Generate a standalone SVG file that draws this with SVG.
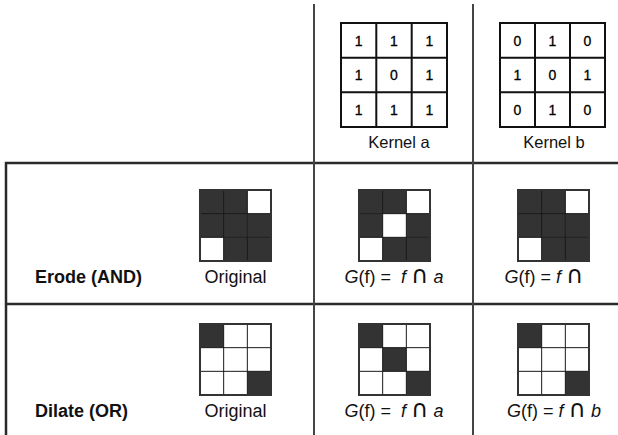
<svg xmlns="http://www.w3.org/2000/svg" xmlns:xlink="http://www.w3.org/1999/xlink" width="618" height="435" viewBox="0 0 618 435">
<style>
.rule{stroke:#2a2a2a;stroke-width:2.5;fill:none}
.rule2{stroke:#444;stroke-width:2;fill:none}
.kgrid{stroke:#111;stroke-width:2;fill:#fff}
.kl{stroke:#111;stroke-width:2}
.num{font-family:"Liberation Sans",Arial,sans-serif;font-size:14px;fill:#000;text-anchor:middle;stroke:#000;stroke-width:0.3}
.lbl{font-family:"Liberation Sans",Arial,sans-serif;font-size:16.5px;fill:#111;text-anchor:middle}
.row{font-family:"Liberation Sans",Arial,sans-serif;font-size:18px;font-weight:bold;fill:#111}
.frm{font-family:"Liberation Sans",Arial,sans-serif;font-size:18px;fill:#111;text-anchor:middle}
.it{font-style:italic}
.cap{font-family:"DejaVu Sans",sans-serif;font-size:24px}
.d{fill:#333}
.pg{stroke:#1a1a1a;stroke-width:1;fill:none}
.pb{stroke:#333;stroke-width:2;fill:none}
</style>
<defs>
<g id="pgrid">
<path class="pg" d="M23.67 0V71M47.33 0V71M0 23.67H71M0 47.33H71"/>
<rect class="pb" x="0" y="0" width="71" height="71"/>
</g>
</defs>
<rect width="618" height="435" fill="#fff"/>
<g id="connectors">
<path class="rule" d="M6 435V163H618"/>
<path class="rule" d="M6 304H618"/>
<path class="rule2" d="M314 4V435"/>
<path class="rule2" d="M473 4V435"/>
</g>
<g id="kernel-a">
<rect class="kgrid" x="341" y="23" width="106" height="104"/>
<path class="kl" d="M376.3 23V127M411.7 23V127M341 57.7H447M341 92.3H447"/>
<text class="num" x="358.6" y="45.5">1</text><text class="num" x="394" y="45.5">1</text><text class="num" x="429.3" y="45.5">1</text>
<text class="num" x="358.6" y="80.2">1</text><text class="num" x="394" y="80.2">0</text><text class="num" x="429.3" y="80.2">1</text>
<text class="num" x="358.6" y="114.8">1</text><text class="num" x="394" y="114.8">1</text><text class="num" x="429.3" y="114.8">1</text>
<text class="lbl" x="399" y="148">Kernel a</text>
</g>
<g id="kernel-b">
<rect class="kgrid" x="500" y="23" width="105" height="104"/>
<path class="kl" d="M535 23V127M570 23V127M500 57.7H605M500 92.3H605"/>
<text class="num" x="517.5" y="45.5">0</text><text class="num" x="552.5" y="45.5">1</text><text class="num" x="587.5" y="45.5">0</text>
<text class="num" x="517.5" y="80.2">1</text><text class="num" x="552.5" y="80.2">0</text><text class="num" x="587.5" y="80.2">1</text>
<text class="num" x="517.5" y="114.8">0</text><text class="num" x="552.5" y="114.8">1</text><text class="num" x="587.5" y="114.8">0</text>
<text class="lbl" x="554" y="148">Kernel b</text>
</g>
<g id="erode-label">
<text class="row" x="35" y="283">Erode (AND)</text>
</g>
<g id="erode-original" transform="translate(200,190)">
<rect class="d" x="0" y="0" width="47.33" height="47.33"/>
<rect class="d" x="47.33" y="23.67" width="23.67" height="23.67"/>
<rect class="d" x="23.67" y="47.33" width="47.33" height="23.67"/>
<use xlink:href="#pgrid"/>
<text class="frm" x="35.5" y="93">Original</text>
</g>
<g id="erode-a" transform="translate(359,190)">
<rect class="d" x="0" y="0" width="47.33" height="23.67"/>
<rect class="d" x="0" y="23.67" width="23.67" height="23.67"/>
<rect class="d" x="47.33" y="23.67" width="23.67" height="23.67"/>
<rect class="d" x="23.67" y="47.33" width="47.33" height="23.67"/>
<use xlink:href="#pgrid"/>
<text class="frm" x="35" y="93" xml:space="preserve"><tspan class="it">G</tspan>(f) =  <tspan class="it">f</tspan> <tspan class="cap">∩</tspan> <tspan class="it">a</tspan></text>
</g>
<g id="erode-b" transform="translate(518,190)">
<rect class="d" x="0" y="0" width="47.33" height="47.33"/>
<rect class="d" x="47.33" y="23.67" width="23.67" height="23.67"/>
<rect class="d" x="23.67" y="47.33" width="47.33" height="23.67"/>
<use xlink:href="#pgrid"/>
<text class="frm" x="26" y="93"><tspan class="it">G</tspan>(f) = <tspan class="it">f</tspan> <tspan class="cap">∩</tspan></text>
</g>
<g id="dilate-label">
<text class="row" x="35" y="417">Dilate (OR)</text>
</g>
<g id="dilate-original" transform="translate(200,324)">
<rect class="d" x="0" y="0" width="23.67" height="23.67"/>
<rect class="d" x="47.33" y="47.33" width="23.67" height="23.67"/>
<use xlink:href="#pgrid"/>
<text class="frm" x="35.5" y="93">Original</text>
</g>
<g id="dilate-a" transform="translate(359,324)">
<rect class="d" x="0" y="0" width="23.67" height="23.67"/>
<rect class="d" x="23.67" y="23.67" width="23.67" height="23.67"/>
<rect class="d" x="47.33" y="47.33" width="23.67" height="23.67"/>
<use xlink:href="#pgrid"/>
<text class="frm" x="35" y="93" xml:space="preserve"><tspan class="it">G</tspan>(f) =  <tspan class="it">f</tspan> <tspan class="cap">∩</tspan> <tspan class="it">a</tspan></text>
</g>
<g id="dilate-b" transform="translate(518,324)">
<rect class="d" x="0" y="0" width="23.67" height="23.67"/>
<rect class="d" x="47.33" y="47.33" width="23.67" height="23.67"/>
<use xlink:href="#pgrid"/>
<text class="frm" x="36" y="93"><tspan class="it">G</tspan>(f) = <tspan class="it">f</tspan> <tspan class="cap">∩</tspan> <tspan class="it">b</tspan></text>
</g>
</svg>
